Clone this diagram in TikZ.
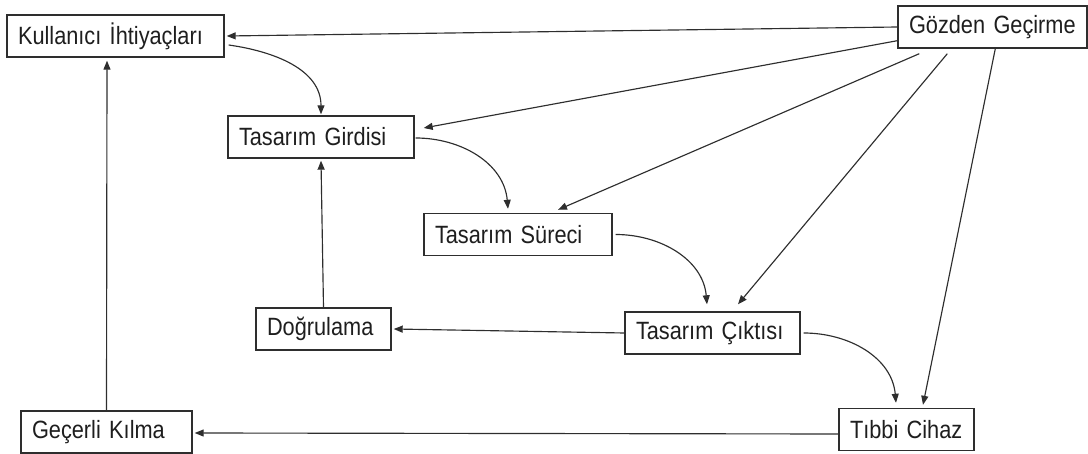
\documentclass[tikz,border=0pt]{standalone}
\usepackage{fontspec}
\setmainfont{Liberation Sans}[FakeStretch=0.87]
\usetikzlibrary{arrows.meta}
\definecolor{ink}{HTML}{1E1E1E}
\definecolor{wire}{HTML}{2E2E2E}
\begin{document}
\begin{tikzpicture}[x=1pt,y=-1pt,
  font=\fontsize{25}{29}\selectfont,
  stagebox/.style={draw=wire,line width=1.4pt,text=ink,minimum height=42pt,
    inner xsep=11pt,inner ysep=0pt,align=left,anchor=center},
  flow/.style={draw=wire,line width=1.15pt,-{Triangle[length=9pt,width=7pt]}}]
\useasboundingbox (0,0) rectangle (1088,454);

% process stages
\node[stagebox,text width=195pt] (K)  at (115.5,36)  {\mbox{Kullanıcı İhtiyaçları}};
\node[stagebox,text width=164pt] (TG) at (321,137)   {\mbox{Tasarım Girdisi}};
\node[stagebox,text width=167pt] (GG) at (992.5,27)  {\mbox{Gözden Geçirme}};
\node[stagebox,text width=166pt] (TS) at (518,234.5) {\mbox{Tasarım Süreci}};
\node[stagebox,text width=113pt] (D)  at (323.5,329) {\mbox{Doğrulama}};
\node[stagebox,text width=153pt] (TC) at (712.5,333) {\mbox{Tasarım Çıktısı}};
\node[stagebox,text width=113pt] (TB) at (906.5,429.5) {\mbox{Tıbbi Cihaz}};
\node[stagebox,text width=149pt] (GK) at (106.5,432) {\mbox{Geçerli Kılma}};

% review feeds every stage
\draw[flow] (GG.west) -- ([xshift=2pt]K.east);
\draw[flow] ([yshift=8pt]GG.south west) -- ([xshift=9pt,yshift=9pt]TG.east);
\draw[flow] ([xshift=22pt,yshift=-5pt]GG.south west) -- ([xshift=40pt,yshift=3pt]TS.north);
\draw[flow] ([xshift=50pt,yshift=-5pt]GG.south west) -- ([xshift=25.5pt,yshift=7pt]TC.north);
\draw[flow] ([xshift=98pt]GG.south west) -- ([xshift=16.5pt,yshift=3pt]TB.north);

% main design chain
\draw[flow] ([xshift=4pt,yshift=-9pt]K.east) to[out=-8,in=90] ([yshift=1pt]TG.north);
\draw[flow] ([xshift=1pt,yshift=-1pt]TG.east) to[out=0,in=95] ([xshift=-10pt,yshift=4pt]TS.north);
\draw[flow] ([xshift=3pt]TS.east) to[out=0,in=95] ([xshift=-5.5pt,yshift=7pt]TC.north);
\draw[flow] ([xshift=3pt]TC.east) to[out=0,in=95] ([xshift=-10.5pt,yshift=5pt]TB.north);

% verification and validation loops
\draw[flow] (TC.west) -- ([xshift=2pt]D.east);
\draw[flow] (D.north) -- ([yshift=-2pt]TG.south);
\draw[flow] ([yshift=-4.5pt]TB.west) -- ([xshift=2pt,yshift=-1pt]GK.east);
\draw[flow] (GK.north) -- ([xshift=-8.5pt,yshift=-3pt]K.south);
\end{tikzpicture}
\end{document}
